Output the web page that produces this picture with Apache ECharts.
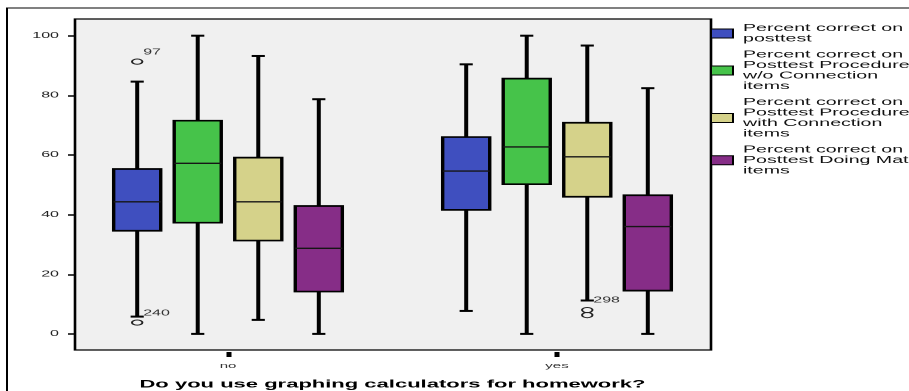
<!DOCTYPE html>
<html>
<head>
<meta charset="utf-8">
<script src="https://cdn.jsdelivr.net/npm/echarts@6/dist/echarts.min.js"></script>
<style>
  html, body { margin: 0; padding: 0; background: #fff; overflow: hidden; }
  /* the source picture is stretched 2x sideways, so draw at half width and stretch */
  #chart { width: 455px; height: 391px; transform: scaleX(2); transform-origin: 0 0; }
</style>
</head>
<body>
<div id="chart"></div>
<script>
const groups = ['no', 'yes'];
const seriesNames = [
  'Percent correct on posttest',
  'Percent correct on Posttest Procedure w/o Connection items',
  'Percent correct on Posttest Procedure with Connection items',
  'Percent correct on Posttest Doing Math items'
];
const legendLabels = [
  'Percent correct on\nposttest',
  'Percent correct on\nPosttest Procedure\nw/o Connection\nitems',
  'Percent correct on\nPosttest Procedure\nwith Connection\nitems',
  'Percent correct on\nPosttest Doing Math\nitems'
];
const seriesColors = ['#3f4fbf', '#46c34a', '#d5d28a', '#862d87'];

// [min, Q1, median, Q3, max] for "no" and "yes"
const posttest = [[5.8, 34.6, 44.3, 55.3, 84.6], [7.7, 41.6, 54.6, 66.0, 90.4]];
const procNoConn = [[0, 37.3, 57.2, 71.5, 100], [0, 50.2, 62.7, 85.6, 100]];
const procWithConn = [[4.7, 31.3, 44.3, 59.1, 93.2], [11.2, 46.0, 59.4, 70.8, 96.7]];
const doingMath = [[0, 14.2, 28.7, 42.9, 78.7], [0, 14.5, 36.0, 46.5, 82.4]];
const boxStats = [posttest, procNoConn, procWithConn, doingMath];

// [group, series, value, case label]
const outliers = [
  [0, 0, 91.3, '97'],
  [0, 0, 3.8, '240'],
  [1, 2, 8.0, '298'],
  [1, 2, 6.3, '']
];
const yTicks = [0, 20, 40, 60, 80, 100];

const SPREAD = 0.184; // distance between neighbour boxes, share of band
const BOX = 0.143;
const CAP = 0.04;

function boxX(api, g, idx) {
  const band = api.size([1, 0])[0];
  return api.coord([g, 0])[0] + (idx - 1.5) * SPREAD * band;
}

function line(x1, y1, x2, y2, w, c) {
  return { type: 'line', shape: { x1: x1, y1: y1, x2: x2, y2: y2 }, style: { stroke: c || '#000', lineWidth: w } };
}

function renderBox(idx) {
  return function (params, api) {
    const g = api.value(0);
    const band = api.size([1, 0])[0];
    const cx = boxX(api, g, idx);
    const hw = BOX * band / 2;
    const hc = CAP * band / 2;
    const y = i => api.coord([g, api.value(i)])[1];
    const yMin = y(1), yQ1 = y(2), yMed = y(3), yQ3 = y(4), yMax = y(5);
    return {
      type: 'group',
      children: [
        line(cx, yQ3, cx, yMax, 2),
        line(cx - hc, yMax, cx + hc, yMax, 2),
        line(cx, yQ1, cx, yMin, 2),
        line(cx - hc, yMin, cx + hc, yMin, 2),
        {
          type: 'rect',
          shape: { x: cx - hw, y: yQ3, width: hw * 2, height: yQ1 - yQ3 },
          style: { fill: api.visual('color'), stroke: '#000', lineWidth: 1.7 }
        },
        line(cx - hw, yMed, cx + hw, yMed, 1.4, '#161616')
      ]
    };
  };
}

function renderOutlier(params, api) {
  const g = api.value(0);
  const cx = boxX(api, g, api.value(2));
  const cy = api.coord([g, api.value(1)])[1];
  return {
    type: 'group',
    children: [
      { type: 'circle', shape: { cx: cx, cy: cy, r: 2.6 }, style: { fill: 'none', stroke: '#222', lineWidth: 1 } },
      {
        type: 'text', x: cx + 3, y: cy - 9.5,
        style: { text: outliers[params.dataIndex][3], fill: '#333', font: '8px "Liberation Sans"', verticalAlign: 'middle' }
      }
    ]
  };
}

const chart = echarts.init(document.getElementById('chart'), null, { devicePixelRatio: 2 });

const series = boxStats.map((stats, i) => ({
  name: seriesNames[i],
  type: 'custom',
  xAxisIndex: 1,
  yAxisIndex: 1,
  itemStyle: { color: seriesColors[i] },
  encode: { x: 0, y: [1, 2, 3, 4, 5] },
  data: stats.map((s, g) => [g].concat(s)),
  renderItem: renderBox(i)
}));
series.push({
  name: 'outliers',
  type: 'custom',
  xAxisIndex: 1,
  yAxisIndex: 1,
  encode: { x: 0, y: 1 },
  data: outliers.map(o => [o[0], o[2], o[1]]),
  renderItem: renderOutlier
});

chart.setOption({
  animation: false,
  textStyle: { fontFamily: 'Liberation Sans' },
  graphic: [{
    type: 'rect', silent: true, z: -1,
    shape: { x: 3.5, y: 8, width: 600, height: 600 },
    style: { fill: 'none', stroke: '#000', lineWidth: 1 }
  }],
  grid: [
    {
      left: 37.5, top: 19, width: 318, height: 331, outerBoundsMode: 'none',
      show: true, backgroundColor: '#f0f0f0', borderColor: '#000', borderWidth: 1.3
    },
    { left: 31.75, top: 19, width: 329, height: 331, outerBoundsMode: 'none' }
  ],
  legend: {
    orient: 'vertical', left: 355, top: 23, padding: 0,
    itemWidth: 11, itemHeight: 9, itemGap: 5.5, icon: 'rect',
    selectedMode: false,
    data: seriesNames,
    formatter: n => legendLabels[seriesNames.indexOf(n)],
    itemStyle: { borderColor: '#000', borderWidth: 1 },
    textStyle: { fontSize: 9.8, lineHeight: 10.5, color: '#111', fontFamily: 'Liberation Sans' }
  },
  xAxis: [
    { gridIndex: 0, type: 'value', show: false },
    {
      gridIndex: 1, type: 'category', data: groups, offset: 2,
      axisLine: { show: false, onZero: false },
      axisTick: { show: true, alignWithLabel: true, length: 5, lineStyle: { color: '#000', width: 2.5 } },
      axisLabel: { fontSize: 7.5, color: '#333', margin: 10 },
      name: 'Do you use graphing calculators for homework?',
      nameLocation: 'middle', nameGap: 27,
      nameTextStyle: { fontWeight: 'bold', fontSize: 11, color: '#000' }
    }
  ],
  yAxis: [
    {
      gridIndex: 0, type: 'value', min: -5.4, max: 105.6, offset: 1.5,
      axisLine: { show: false },
      splitLine: { show: false },
      axisTick: { show: true, length: 3.5, customValues: yTicks, lineStyle: { color: '#000', width: 1.5 } },
      axisLabel: { customValues: yTicks, margin: 6.5, fontSize: 8, color: '#222' }
    },
    { gridIndex: 1, type: 'value', min: -5.4, max: 105.6, show: false }
  ],
  series: series
});
</script>
</body>
</html>
